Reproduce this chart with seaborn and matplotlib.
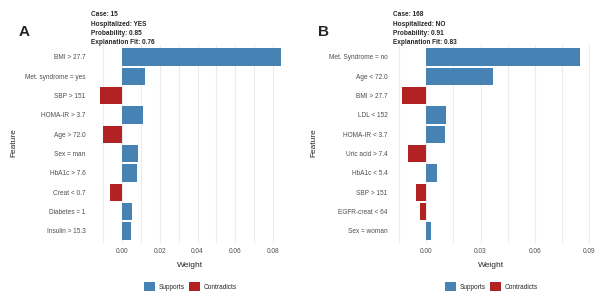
import pandas as pd
import numpy as np
import matplotlib
matplotlib.use('Agg')
import matplotlib.pyplot as plt
import seaborn as sns

# Panel A data
features_a = ['BMI > 27.7', 'Met. syndrome = yes', 'SBP > 151', 'HOMA-IR > 3.7', 'Age > 72.0',
              'Sex = man', 'HbA1c > 7.6', 'Creat < 0.7', 'Diabetes = 1', 'Insulin > 15.3']
weights_a = [0.0839, 0.0125, -0.0115, 0.0114, -0.0100, 0.0084, 0.0081, -0.0063, 0.0053, 0.0047]
title_a = 'Case: 15\nHospitalized: YES\nProbability: 0.85\nExplanation Fit: 0.76'
ticks_a = [0.00, 0.02, 0.04, 0.06, 0.08]

# Panel B data
features_b = ['Met. Syndrome = no', 'Age < 72.0', 'BMI > 27.7', 'LDL < 152', 'HOMA-IR < 3.7',
              'Uric acid > 7.4', 'HbA1c < 5.4', 'SBP > 151', 'EGFR-creat < 64', 'Sex = woman']
weights_b = [0.0849, 0.0371, -0.0136, 0.0109, 0.0103, -0.0103, 0.0058, -0.0056, -0.0036, 0.0026]
title_b = 'Case: 168\nHospitalized: NO\nProbability: 0.91\nExplanation Fit: 0.83'
ticks_b = [0.00, 0.03, 0.06, 0.09]

effects = ['Supports', 'Contradicts']
palette = {'Supports': '#4682B4', 'Contradicts': '#B22222'}

sns.set_style('white')
plt.rcParams['font.family'] = ['Liberation Sans', 'DejaVu Sans']

fig = plt.figure(figsize=(6, 3.04), dpi=100)


def panel(rect, features, weights, ticks, xlim, title, letter, letter_x, feat_x):
    ax = fig.add_axes(rect)
    df = pd.DataFrame({'feature': features, 'weight': weights})
    df['effect'] = np.where(df['weight'] >= 0, 'Supports', 'Contradicts')
    sns.barplot(data=df, x='weight', y='feature', hue='effect', hue_order=effects,
                palette=palette, dodge=False, width=0.9, saturation=1,
                linewidth=0, ax=ax, zorder=3)
    step = ticks[1] - ticks[0]
    ax.set_xticks(ticks)
    ax.set_xticklabels([f'{t:.2f}' for t in ticks])
    # minor grid halfway between the labelled ticks, only inside the panel
    minor = np.arange(-step / 2, ticks[-1] + step, step)
    minor = minor[(minor > xlim[0]) & (minor < xlim[1])]
    ax.set_xticks(minor, minor=True)
    ax.set_xlim(*xlim)
    ax.set_ylim(len(features) - 0.4, -0.6)
    ax.grid(axis='x', which='major', color='#EBEBEB', linewidth=0.8, zorder=0)
    ax.grid(axis='x', which='minor', color='#EBEBEB', linewidth=0.8, zorder=0)
    ax.set_axisbelow(True)
    for s in ax.spines.values():
        s.set_visible(False)
    ax.tick_params(axis='both', which='both', length=0, labelsize=4.7, labelcolor='#4D4D4D', pad=4)
    ax.set_xlabel('Weight', fontsize=6, labelpad=5)
    ax.set_ylabel('')
    ax.text(0, 0.996, title, transform=ax.transAxes, ha='left', va='bottom',
            fontsize=4.7, fontweight='bold', linespacing=1.45)
    fig.text(letter_x, 1 - 32 / 304, letter, fontsize=11, fontweight='bold', va='center')
    fig.text(feat_x, 0.53, 'Feature', rotation=90, fontsize=6, va='center', ha='center')
    ax.legend(loc='upper center', bbox_to_anchor=(0.5, -0.17), ncol=2, frameon=False,
              fontsize=4.7, handlelength=1.7, handleheight=1.7, handletextpad=0.6,
              columnspacing=0.6, title=None)
    return ax


panel([91 / 600, 0.202, 199 / 600, 0.649], features_a, weights_a, ticks_a, (-0.0162, 0.0888),
      title_a, 'A', 19 / 600, 14 / 600)
panel([393 / 600, 0.202, 197 / 600, 0.649], features_b, weights_b, ticks_b, (-0.0184, 0.0905),
      title_b, 'B', 318 / 600, 314 / 600)

fig.savefig('out.png', dpi=100, facecolor='white')
